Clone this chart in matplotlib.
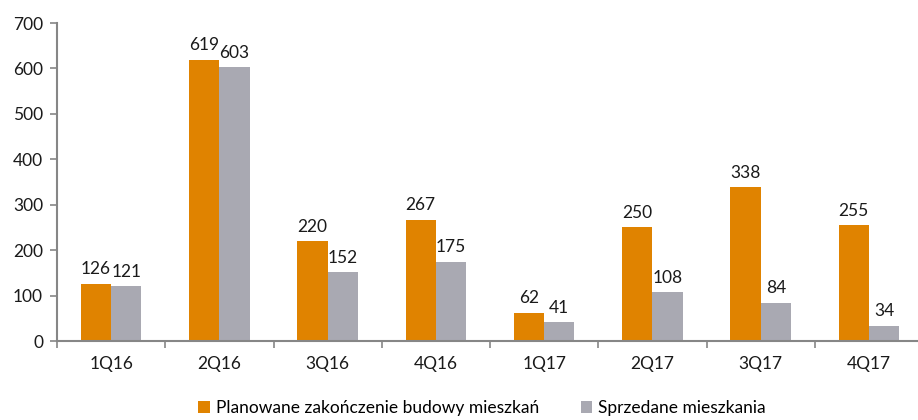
import matplotlib
matplotlib.use("Agg")
import matplotlib.pyplot as plt
import numpy as np

plt.rcParams['font.family'] = ['Lato', 'DejaVu Sans']

categories = ["1Q16", "2Q16", "3Q16", "4Q16", "1Q17", "2Q17", "3Q17", "4Q17"]
planned = [126, 619, 220, 267, 62, 250, 338, 255]
sold = [121, 603, 152, 175, 41, 108, 84, 34]
series_names = ["Planowane zakończenie budowy mieszkań", "Sprzedane mieszkania"]

c_orange = "#E08300"
c_grey = "#A9A9B2"
axis_c = "#868686"
fs = 12.5

fig = plt.figure(figsize=(9.18, 4.2), dpi=100)
ax = fig.add_axes([57/918, 79/420, 866/918, 318/420])

x = np.arange(len(categories))
w = 0.28
b1 = ax.bar(x - w/2, planned, w, color=c_orange, label=series_names[0])
b2 = ax.bar(x + w/2, sold, w, color=c_grey, label=series_names[1])

for rect, v in zip(b1, planned):
    ax.text(rect.get_x() + rect.get_width()/2, v + 14, str(v), ha='center', va='bottom', fontsize=fs, color='#1a1a1a')
for rect, v in zip(b2, sold):
    ax.text(rect.get_x() + rect.get_width()/2, v + 14, str(v), ha='center', va='bottom', fontsize=fs, color='#1a1a1a')

ax.set_xlim(-0.5, 7.5)
ax.set_ylim(0, 700)
ax.set_yticks(range(0, 701, 100))
ax.set_xticks(x)
ax.set_xticklabels(categories)
ax.set_xticks(np.arange(-0.5, 8.0, 1.0), minor=True)
ax.tick_params(axis='x', which='major', length=0, pad=11, labelsize=fs, colors='#1a1a1a')
ax.tick_params(axis='x', which='minor', length=5, width=1.2, color=axis_c, direction='out')
ax.tick_params(axis='y', length=5, width=1.2, color=axis_c, labelsize=fs, labelcolor='#1a1a1a', pad=5)
for s in ['top', 'right']:
    ax.spines[s].set_visible(False)
for s in ['left', 'bottom']:
    ax.spines[s].set_color(axis_c)
    ax.spines[s].set_linewidth(1.5)

fig.legend(handles=[b1, b2], labels=series_names, loc='center', bbox_to_anchor=(482/918, 1 - 408/420),
           ncol=2, frameon=False, fontsize=fs, handlelength=0.65, handleheight=0.65,
           handletextpad=0.35, columnspacing=2.4)

fig.savefig("out.png", dpi=100)
